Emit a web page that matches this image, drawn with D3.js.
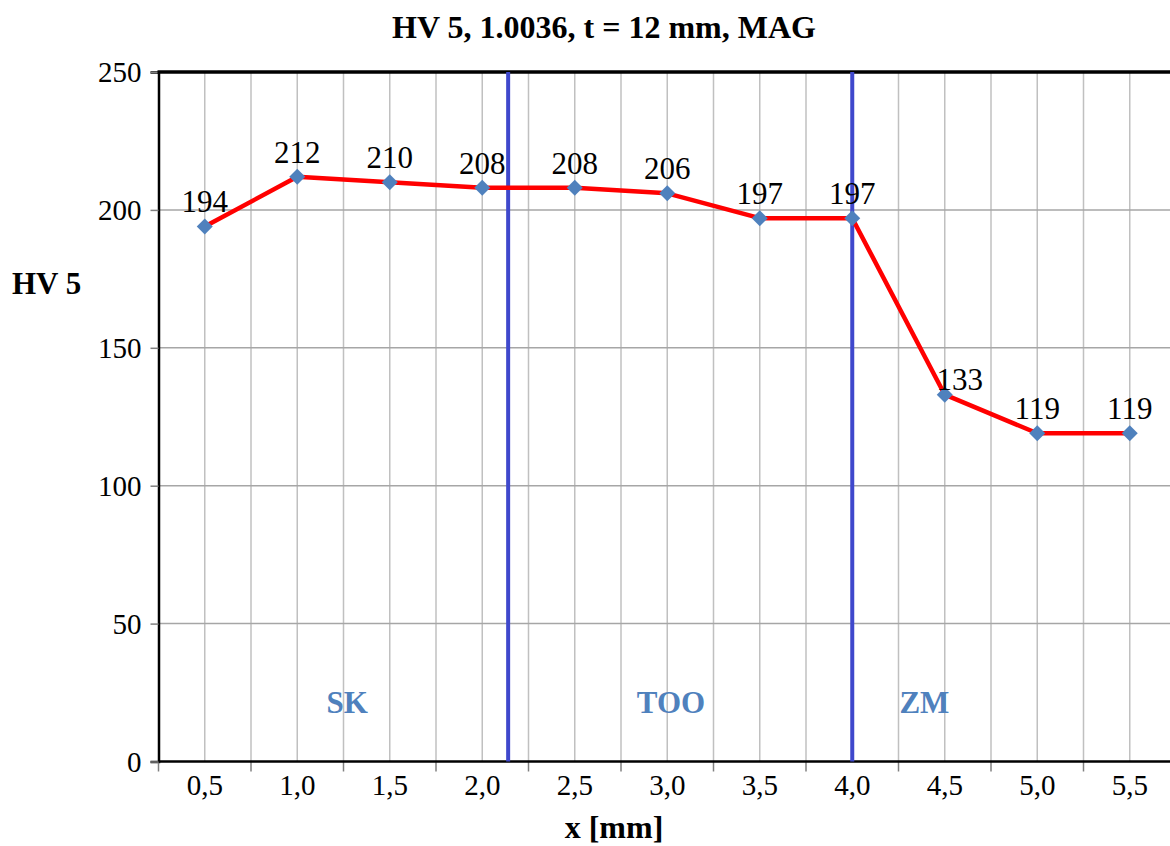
<!DOCTYPE html>
<html><head><meta charset="utf-8">
<script src="https://cdn.jsdelivr.net/npm/d3@7"></script>
<style>
html,body{margin:0;padding:0;background:#fff;overflow:hidden;}
svg text{font-family:"Liberation Serif","Times New Roman",Tinos,"DejaVu Serif",serif;}
</style></head>
<body><svg id="c" width="1170" height="846"></svg>
<script>
const categories = ["0,5","1,0","1,5","2,0","2,5","3,0","3,5","4,0","4,5","5,0","5,5"];
const positions = [0.5,1.0,1.5,2.0,2.5,3.0,3.5,4.0,4.5,5.0,5.5];
const hardness = [194,212,210,208,208,206,197,197,133,119,119];
const yTicks = [0,50,100,150,200,250];
const zoneBorders = [2.14, 4.0];
const zoneLabels = ["SK","TOO","ZM"];
const zoneLabelX = [1.27, 3.02, 4.39];
const zoneLabelY = 17.5;

const SERIF = '"Liberation Serif","Times New Roman",serif';
const svg = d3.select("#c");
const x = d3.scaleLinear().domain([0.25,5.75]).range([158.5,1176]);
const y = d3.scaleLinear().domain([0,250]).range([761.5,72]);

// vertical gridlines every 0.25
const vGrid = d3.range(0.5, 5.76, 0.25);
svg.append("g").selectAll("line").data(vGrid).join("line")
  .attr("x1",d=>x(d)).attr("x2",d=>x(d)).attr("y1",y(250)).attr("y2",y(0))
  .attr("stroke","#c0c0c0").attr("stroke-width",1.5);
// horizontal gridlines
svg.append("g").selectAll("line").data(yTicks.filter(d=>d>0&&d<250)).join("line")
  .attr("x1",x(0.25)).attr("x2",1170).attr("y1",d=>y(d)).attr("y2",d=>y(d))
  .attr("stroke","#a6a6a6").attr("stroke-width",1.5);

// y axis
const yAxis = d3.axisLeft(y).tickValues(yTicks).tickSize(8).tickPadding(9).tickFormat(d3.format("d"));
const gy = svg.append("g").attr("transform",`translate(${x(0.25)},0)`).call(yAxis)
  .attr("font-family",SERIF);
gy.select(".domain").attr("stroke","#000").attr("stroke-width",2.5);
gy.selectAll(".tick line").attr("stroke","#808080").attr("stroke-width",1.5);
gy.selectAll(".tick text").attr("font-size",29).attr("fill","#000").attr("dy","0.34em");

// x axis (category ticks at boundaries, labels at centers)
const boundaries = d3.range(0.25, 5.3, 0.5);
svg.append("g").selectAll("line").data(boundaries).join("line")
  .attr("x1",d=>x(d)).attr("x2",d=>x(d)).attr("y1",y(0)).attr("y2",y(0)+10)
  .attr("stroke","#808080").attr("stroke-width",1.5);
svg.append("line").attr("x1",x(0.25)).attr("x2",1170).attr("y1",y(0)).attr("y2",y(0))
  .attr("stroke","#000").attr("stroke-width",2.5);
svg.append("g").attr("font-family",SERIF).selectAll("text").data(categories).join("text")
  .attr("x",(d,i)=>x(positions[i])).attr("y",795).attr("text-anchor","middle")
  .attr("font-size",29).attr("fill","#000").text(d=>d);

// top border
svg.append("line").attr("x1",x(0.25)-1).attr("x2",1170).attr("y1",y(250)).attr("y2",y(250))
  .attr("stroke","#000").attr("stroke-width",3.5);

// zone borders
svg.append("g").selectAll("line").data(zoneBorders).join("line")
  .attr("x1",d=>x(d)).attr("x2",d=>x(d)).attr("y1",y(250)).attr("y2",y(0))
  .attr("stroke","#3f48cc").attr("stroke-width",4);

// zone labels
svg.append("g").attr("font-family",SERIF).selectAll("text").data(zoneLabels).join("text")
  .attr("x",(d,i)=>x(zoneLabelX[i])).attr("y",y(zoneLabelY)).attr("text-anchor","middle")
  .attr("font-size",31).attr("font-weight","bold").attr("fill","#4f81bd").text(d=>d);

// line
const line = d3.line().x((d,i)=>x(positions[i])).y(d=>y(d));
svg.append("path").datum(hardness).attr("d",line).attr("fill","none")
  .attr("stroke","#ff0000").attr("stroke-width",4.5).attr("stroke-linejoin","round");

// markers
svg.append("g").selectAll("path").data(hardness).join("path")
  .attr("transform",(d,i)=>`translate(${x(positions[i])},${y(d)})`)
  .attr("d","M0,-8L8,0L0,8L-8,0Z").attr("fill","#4f81bd");

// data labels (label nudged right when the incoming segment drops steeply)
const steep = (i)=> i>0 && hardness[i-1]-hardness[i] > 30;
svg.append("g").attr("font-family",SERIF).selectAll("text").data(hardness).join("text")
  .attr("x",(d,i)=>x(positions[i]) + (steep(i)?15:0))
  .attr("y",(d,i)=>y(d) - (steep(i)?5:14)).attr("text-anchor","middle")
  .attr("font-size",31).attr("fill","#000").text(d=>d);

// titles
const tg = svg.append("g").attr("font-family",SERIF).attr("font-weight","bold").attr("fill","#000");
tg.append("text").attr("x",604).attr("y",38).attr("text-anchor","middle")
  .attr("font-size",32).text("HV 5, 1.0036, t = 12 mm, MAG");
tg.append("text").attr("x",12).attr("y",294)
  .attr("font-size",31).text("HV 5");
tg.append("text").attr("x",614).attr("y",838).attr("text-anchor","middle")
  .attr("font-size",32).text("x [mm]");
</script></body></html>
